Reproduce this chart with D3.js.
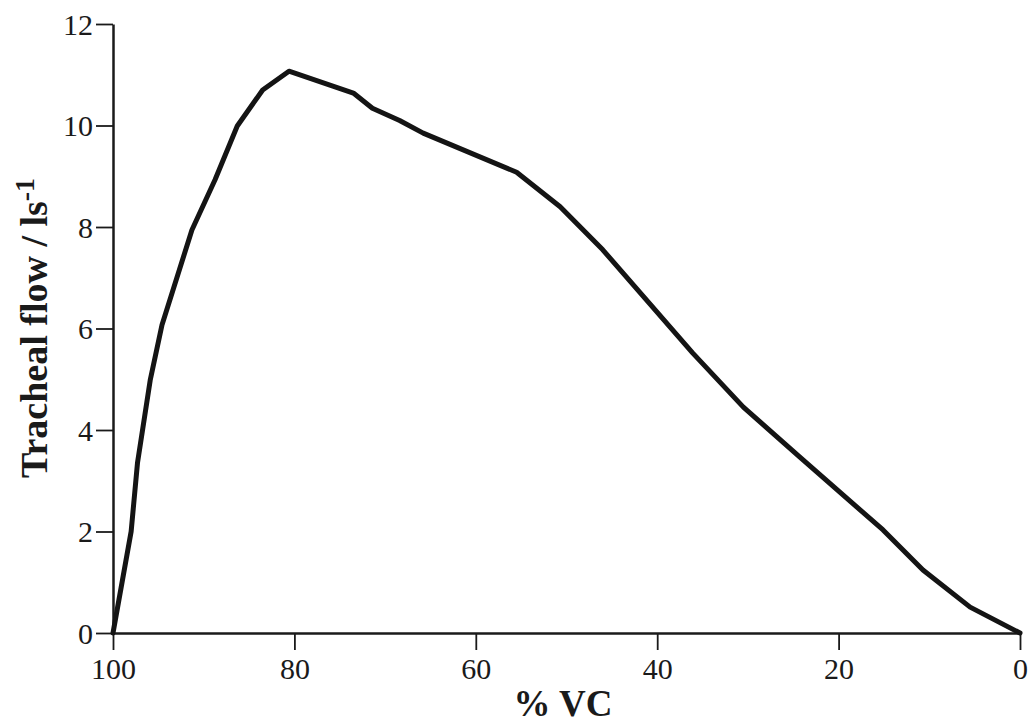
<!DOCTYPE html>
<html><head><meta charset="utf-8">
<script src="https://cdn.jsdelivr.net/npm/d3@7"></script>
<style>body{margin:0;background:#fff}</style>
</head><body>
<svg id="c" width="1035" height="727"></svg>
<script>
const vc   = [100, 98, 97.3, 95.9, 94.6, 91.3, 88.75, 86.3, 83.5, 80.6, 73.5, 71.4, 68.4, 65.8, 55.5, 50.7, 46, 36.1, 30.5, 24.3, 15.1, 10.7, 5.5, 0];
const flow = [0, 2.0, 3.35, 4.98, 6.07, 7.94, 8.93, 9.99, 10.7, 11.07, 10.64, 10.34, 10.1, 9.85, 9.08, 8.4, 7.55, 5.52, 4.45, 3.47, 2.03, 1.24, 0.51, 0];
const xTicks = [100, 80, 60, 40, 20, 0];
const yTicks = [0, 2, 4, 6, 8, 10, 12];

const svg = d3.select("#c");
const x = d3.scaleLinear().domain([100, 0]).range([113, 1020]);
const y = d3.scaleLinear().domain([0, 12]).range([633, 24]);
const font = "'Liberation Serif','Times New Roman',serif";

const xa = svg.append("g").attr("transform", "translate(0,633)")
  .call(d3.axisBottom(x).tickValues(xTicks).tickSize(17).tickSizeOuter(0).tickPadding(8));
const ya = svg.append("g").attr("transform", "translate(113,0)")
  .call(d3.axisLeft(y).tickValues(yTicks).tickSize(17).tickSizeOuter(0).tickPadding(3));
[xa, ya].forEach(a => {
  a.select(".domain").attr("stroke", "#1a1a1a").attr("stroke-width", 2.5);
  a.selectAll(".tick line").attr("stroke", "#1a1a1a").attr("stroke-width", 1.8);
  a.selectAll(".tick text").attr("fill", "#1a1a1a").style("font-family", font).style("font-size", "30px");
});
ya.selectAll(".tick text").attr("dy", "0.34em");

const pts = vc.map((v, i) => [v, flow[i]]);
svg.append("path").datum(pts)
  .attr("fill", "none").attr("stroke", "#141414").attr("stroke-width", 5)
  .attr("stroke-linejoin", "round").attr("stroke-linecap", "round")
  .attr("d", d3.line().x(d => x(d[0])).y(d => y(d[1])));

svg.append("text").attr("x", 563).attr("y", 716).attr("text-anchor", "middle")
  .style("font-family", font).style("font-size", "37px").style("font-weight", "bold")
  .attr("fill", "#1a1a1a").text("% VC");

const yl = svg.append("text").attr("transform", "translate(47,328) rotate(-90)")
  .attr("text-anchor", "middle")
  .style("font-family", font).style("font-size", "38px").style("font-weight", "bold")
  .attr("fill", "#1a1a1a");
yl.append("tspan").text("Tracheal flow / ls");
yl.append("tspan").attr("dy", "-0.45em").style("font-size", "28px").text("-1");
</script>
</body></html>
